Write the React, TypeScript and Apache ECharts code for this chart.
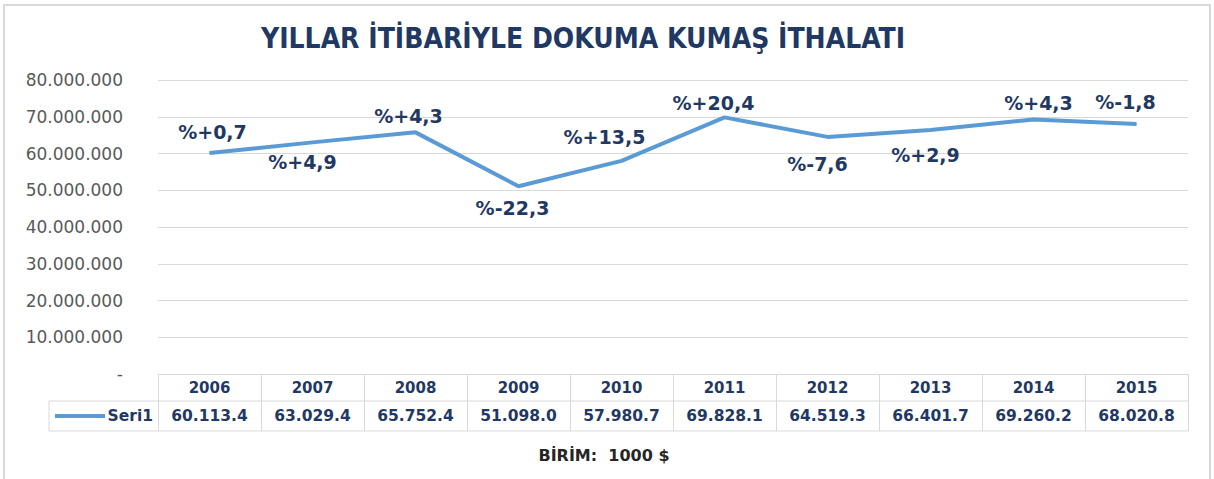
import React, { useEffect, useRef } from "react";
import * as echarts from "echarts";

const TITLE = "YILLAR İTİBARİYLE DOKUMA KUMAŞ İTHALATI";
const UNIT_NOTE = "BİRİM:  1000 $";
const SERIES_NAME = "Seri1";
const years = ["2006", "2007", "2008", "2009", "2010", "2011", "2012", "2013", "2014", "2015"];
// import values in thousand $ (as shown in the data table)
const imports = [60113.4, 63029.4, 65752.4, 51098.0, 57980.7, 69828.1, 64519.3, 66401.7, 69260.2, 68020.8];
// yearly change labels (%)
const changes = [0.7, 4.9, 4.3, -22.3, 13.5, 20.4, -7.6, 2.9, 4.3, -1.8];
const yTicks = [0, 10000000, 20000000, 30000000, 40000000, 50000000, 60000000, 70000000, 80000000];

// layout (styling only)
const labelOffsets: [number, number][] = [
  [3, -21], [-10, 20], [-7, -16], [-6, 22], [-17, -24],
  [-11, -14], [-10, 27], [-5, 25], [5, -16], [-11, -22],
];

const W = 1214;
const H = 479;
const GRID_L = 158;
const GRID_R = 1188;
const GRID_T = 80;
const GRID_B = 374;
const ROW1 = 27;
const ROW2 = 30;
const TABLE_L = 49;

const NAVY = "#1F3864";
const LINE = "#5B9BD5";
const GRIDC = "#D9D9D9";
const FONT = "'DejaVu Sans', sans-serif";

function dots(n: number) {
  return String(Math.round(n)).replace(/\B(?=(\d{3})+(?!\d))/g, ".");
}
function tableFmt(v: number) {
  const s = v.toFixed(1);
  const [ip, dp] = s.split(".");
  return dots(Number(ip)) + "." + dp;
}
function pctFmt(v: number) {
  return "%" + (v >= 0 ? "+" : "") + v.toFixed(1).replace(".", ",");
}

export default function App() {
  const ref = useRef<HTMLDivElement>(null);
  useEffect(() => {
    if (!ref.current) return;
    const chart = echarts.init(ref.current, null, { renderer: "svg" });
    const data = imports.map((v, i) => ({
      value: v * 1000,
      label: {
        show: true,
        position: "inside",
        offset: labelOffsets[i],
        formatter: pctFmt(changes[i]),
      },
    }));
    const tableY1 = GRID_B + ROW1;
    const tableY2 = GRID_B + ROW1 + ROW2;
    chart.setOption({
      animation: false,
      backgroundColor: "#ffffff",
      grid: {
        left: GRID_L,
        right: W - GRID_R,
        top: GRID_T,
        bottom: H - GRID_B,
        containLabel: false,
      },
      xAxis: {
        type: "category",
        data: years,
        boundaryGap: true,
        axisLine: { show: true, lineStyle: { color: GRIDC, width: 1 } },
        axisTick: { show: true, length: ROW1 + ROW2, lineStyle: { color: GRIDC, width: 1 } },
        axisLabel: {
          interval: 0,
          margin: 0,
          formatter: (v: string, i: number) => `{y|${v}}\n{v|${tableFmt(imports[i])}}`,
          rich: {
            y: { fontFamily: FONT, fontWeight: "bold", fontSize: 15, color: NAVY, lineHeight: ROW1, align: "center" },
            v: { fontFamily: FONT, fontWeight: "bold", fontSize: 15.5, color: NAVY, lineHeight: ROW2, align: "center" },
          },
        },
      },
      yAxis: {
        type: "value",
        min: 0,
        max: yTicks[yTicks.length - 1],
        interval: yTicks[1] - yTicks[0],
        axisLine: { show: false },
        axisTick: { show: false },
        splitLine: { show: true, lineStyle: { color: GRIDC, width: 1 } },
        axisLabel: {
          margin: 35,
          color: "#595959",
          fontFamily: FONT,
          fontSize: 17,
          formatter: (v: number) => (v === 0 ? "-" : dots(v)),
        },
      },
      series: [
        {
          type: "line",
          name: SERIES_NAME,
          data,
          symbol: "circle",
          symbolSize: 1,
          showSymbol: true,
          itemStyle: { color: LINE },
          lineStyle: { color: LINE, width: 4 },
          label: {
            show: true,
            fontFamily: FONT,
            fontWeight: "bold",
            fontSize: 19,
            color: NAVY,
            align: "center",
            verticalAlign: "middle",
          },
          emphasis: { disabled: true },
        },
      ],
      graphic: [
        {
          type: "rect",
          shape: { x: 4, y: 5, width: 1206, height: 480 },
          style: { fill: "none", stroke: GRIDC, lineWidth: 2 },
          silent: true,
        },
        {
          type: "text",
          x: 583,
          y: 38,
          style: {
            text: TITLE,
            fontFamily: "'DejaVu Sans Condensed', 'DejaVu Sans', sans-serif",
            fontWeight: "bold",
            fontSize: 28,
            fill: NAVY,
            align: "center",
            verticalAlign: "middle",
          },
        },
        {
          type: "line",
          shape: { x1: TABLE_L, y1: tableY1, x2: GRID_R, y2: tableY1 },
          style: { stroke: GRIDC, lineWidth: 1 },
        },
        {
          type: "line",
          shape: { x1: TABLE_L, y1: tableY2, x2: GRID_R, y2: tableY2 },
          style: { stroke: GRIDC, lineWidth: 1 },
        },
        {
          type: "line",
          shape: { x1: TABLE_L, y1: tableY1, x2: TABLE_L, y2: tableY2 },
          style: { stroke: GRIDC, lineWidth: 1 },
        },
        {
          type: "line",
          shape: { x1: 55, y1: tableY1 + ROW2 / 2, x2: 105, y2: tableY1 + ROW2 / 2 },
          style: { stroke: LINE, lineWidth: 4 },
        },
        {
          type: "text",
          x: 153,
          y: tableY1 + ROW2 / 2,
          style: {
            text: SERIES_NAME,
            fontFamily: FONT,
            fontWeight: "bold",
            fontSize: 15.5,
            fill: NAVY,
            align: "right",
            verticalAlign: "middle",
          },
        },
        {
          type: "text",
          x: 604,
          y: 455,
          style: {
            text: UNIT_NOTE,
            fontFamily: FONT,
            fontWeight: "bold",
            fontSize: 16,
            fill: "#262626",
            align: "center",
            verticalAlign: "middle",
          },
        },
      ],
    });
    return () => chart.dispose();
  }, []);
  return (
    <div
      ref={ref}
      style={{ position: "fixed", left: 0, top: 0, width: W, height: H, background: "#fff" }}
    />
  );
}
